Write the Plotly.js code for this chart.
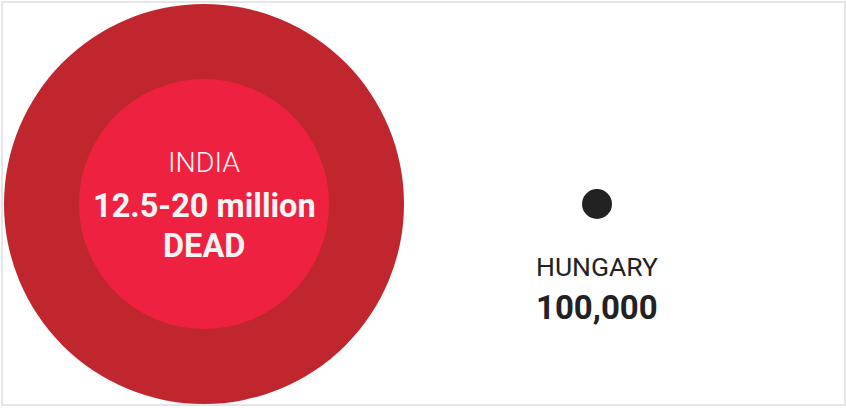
<!DOCTYPE html>
<html>
<head>
<meta charset="utf-8">
<script src="https://cdn.plot.ly/plotly-3.0.1.min.js"></script>
<style>
  html, body { margin: 0; padding: 0; background: #ffffff; }
  #wrap { position: relative; width: 846px; height: 408px; }
  #chart { width: 846px; height: 408px; }
  #frame { position: absolute; left: 1px; top: 1px; width: 845px; height: 405px;
           box-sizing: border-box; border: 2px solid #e6e6e6; pointer-events: none; }
</style>
</head>
<body>
<div id="wrap"><div id="chart"></div><div id="frame"></div></div>
<script>
// Data
var countries = ['INDIA', 'HUNGARY'];
var deathsLow = [12500000, 100000];
var deathsHigh = [20000000, 100000];
var valueLabels = ['12.5-20 million', '100,000'];
var unitLabels = ['DEAD', ''];

// Size scale: diameter proportional to deaths, with a minimum visible dot
var maxDeaths = Math.max.apply(null, deathsHigh);
var maxDiameter = 400, minDiameter = 30;
function dia(v) { return Math.max(minDiameter, maxDiameter * v / maxDeaths); }

var traces = [
  { type: 'scatter', mode: 'markers', x: [countries[0]], y: [0],
    marker: { size: [dia(deathsHigh[0])], color: '#c0262e', opacity: 1, line: { width: 0 } },
    hoverinfo: 'skip' },
  { type: 'scatter', mode: 'markers', x: [countries[0]], y: [0],
    marker: { size: [dia(deathsLow[0])], color: '#ee2240', opacity: 1, line: { width: 0 } },
    hoverinfo: 'skip' },
  { type: 'scatter', mode: 'markers', x: [countries[1]], y: [0],
    marker: { size: [dia(deathsHigh[1])], color: '#222222', opacity: 1, line: { width: 0 } },
    hoverinfo: 'skip' }
];

var annotations = [
  { x: countries[0], y: 0, text: countries[0], showarrow: false, yshift: 42,
    font: { family: 'Roboto', size: 28.5, color: '#f4f4f4', weight: 300 } },
  { x: countries[0], y: 0, text: valueLabels[0], showarrow: false, yshift: -2,
    font: { family: 'Roboto', size: 32.5, color: '#f4f4f4', weight: 700 } },
  { x: countries[0], y: 0, text: unitLabels[0], showarrow: false, yshift: -42,
    font: { family: 'Roboto', size: 32.5, color: '#f4f4f4', weight: 700 } },
  { x: countries[1], y: 0, text: countries[1], showarrow: false, yshift: -62,
    font: { family: 'Roboto', size: 26.5, color: '#222222', weight: 400 } },
  { x: countries[1], y: 0, text: valueLabels[1], showarrow: false, yshift: -103,
    font: { family: 'Roboto', size: 33, color: '#222222', weight: 700 } }
];

var layout = {
  width: 846, height: 408,
  margin: { l: 0, r: 0, t: 0, b: 0 },
  paper_bgcolor: '#ffffff', plot_bgcolor: '#ffffff',
  showlegend: false,
  xaxis: { type: 'category', range: [-204/393, 642/393], visible: false, fixedrange: true },
  yaxis: { range: [-1, 1], visible: false, fixedrange: true },
  annotations: annotations
};

Plotly.newPlot('chart', traces, layout, { displayModeBar: false, staticPlot: true });
</script>
</body>
</html>
